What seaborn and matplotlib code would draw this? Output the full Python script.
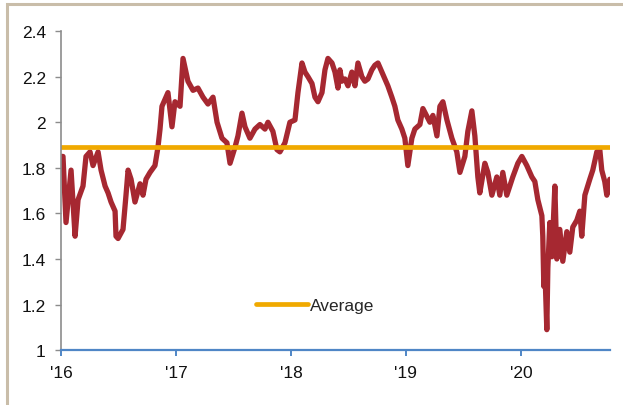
import numpy as np
import pandas as pd
import matplotlib.pyplot as plt
import matplotlib.patches as mpatches
import seaborn as sns

# decimal year and value
years = [2016.000, 2016.017, 2016.043, 2016.087, 2016.122, 2016.148, 2016.191, 2016.217, 2016.252, 2016.278,
         2016.322, 2016.348, 2016.383, 2016.409, 2016.435, 2016.470, 2016.478, 2016.496, 2016.539, 2016.565,
         2016.583, 2016.609, 2016.643, 2016.687, 2016.713, 2016.739, 2016.774, 2016.817, 2016.843, 2016.861,
         2016.878, 2016.904, 2016.930, 2016.965, 2016.991, 2017.035, 2017.061, 2017.104, 2017.148, 2017.191,
         2017.235, 2017.278, 2017.322, 2017.357, 2017.400, 2017.443, 2017.470, 2017.513, 2017.539, 2017.574,
         2017.600, 2017.643, 2017.687, 2017.730, 2017.774, 2017.800, 2017.843, 2017.878, 2017.904, 2017.948,
         2017.991,
         2018.035, 2018.061, 2018.096, 2018.122, 2018.148, 2018.183, 2018.209, 2018.235, 2018.270, 2018.296,
         2018.322, 2018.357, 2018.383, 2018.409, 2018.426, 2018.443, 2018.470, 2018.496, 2018.530, 2018.557,
         2018.583, 2018.617, 2018.643, 2018.670, 2018.704, 2018.730, 2018.757, 2018.791, 2018.817, 2018.843,
         2018.878, 2018.904, 2018.930, 2018.965, 2018.991, 2019.017, 2019.052, 2019.078, 2019.122, 2019.148,
         2019.209, 2019.235, 2019.270, 2019.296, 2019.322, 2019.357, 2019.400, 2019.443, 2019.470, 2019.513,
         2019.539, 2019.574, 2019.600, 2019.626, 2019.643, 2019.687, 2019.713, 2019.748, 2019.791, 2019.817,
         2019.843, 2019.878, 2019.930, 2019.974, 2020.009, 2020.052, 2020.096, 2020.122, 2020.148, 2020.183,
         2020.191, 2020.200, 2020.209, 2020.226, 2020.235, 2020.252, 2020.270, 2020.296, 2020.313, 2020.339,
         2020.365, 2020.400, 2020.426, 2020.452, 2020.487, 2020.513, 2020.530, 2020.557, 2020.600, 2020.626,
         2020.661, 2020.687, 2020.704, 2020.730, 2020.748, 2020.774]
values = [1.85, 1.85, 1.56, 1.79, 1.50, 1.66, 1.72, 1.85, 1.87, 1.81,
          1.87, 1.79, 1.72, 1.69, 1.65, 1.61, 1.50, 1.49, 1.53, 1.68,
          1.79, 1.75, 1.65, 1.73, 1.68, 1.75, 1.78, 1.81, 1.89, 1.97,
          2.07, 2.10, 2.13, 1.98, 2.09, 2.07, 2.28, 2.18, 2.14, 2.15,
          2.11, 2.08, 2.11, 2.00, 1.93, 1.91, 1.82, 1.89, 1.94, 2.04,
          1.98, 1.93, 1.97, 1.99, 1.97, 2.00, 1.96, 1.88, 1.87, 1.91,
          2.00,
          2.01, 2.13, 2.26, 2.22, 2.20, 2.17, 2.11, 2.09, 2.13, 2.23,
          2.28, 2.26, 2.22, 2.15, 2.23, 2.18, 2.19, 2.16, 2.22, 2.16,
          2.26, 2.20, 2.18, 2.19, 2.23, 2.25, 2.26, 2.22, 2.19, 2.16,
          2.11, 2.07, 2.01, 1.97, 1.93, 1.81, 1.93, 1.97, 1.99, 2.06,
          2.00, 2.03, 1.94, 2.07, 2.09, 2.01, 1.93, 1.87, 1.78, 1.85,
          1.96, 2.05, 1.94, 1.76, 1.69, 1.82, 1.78, 1.68, 1.76, 1.68,
          1.78, 1.68, 1.76, 1.82, 1.85, 1.81, 1.76, 1.74, 1.66, 1.59,
          1.50, 1.28, 1.36, 1.09, 1.36, 1.56, 1.41, 1.72, 1.40, 1.53,
          1.39, 1.52, 1.43, 1.54, 1.57, 1.61, 1.50, 1.68, 1.75, 1.79,
          1.87, 1.88, 1.79, 1.74, 1.68, 1.75]
average = 1.89
x_ticks = [2016, 2017, 2018, 2019, 2020]
x_labels = ["'16", "'17", "'18", "'19", "'20"]
y_ticks = [1, 1.2, 1.4, 1.6, 1.8, 2, 2.2, 2.4]
y_labels = ["1", "1.2", "1.4", "1.6", "1.8", "2", "2.2", "2.4"]

df = pd.DataFrame({"year": years, "value": values})
x_end = 2020.775

sns.set_style("white")
plt.rcParams['font.family'] = ['Liberation Sans', 'DejaVu Sans']

fig = plt.figure(figsize=(6.23, 4.06), dpi=100)
ax = fig.add_axes([0.098, 0.135, 0.881, 0.786])

sns.lineplot(data=df, x="year", y="value", color="#A62831", linewidth=3.8, ax=ax)
sns.lineplot(x=[2016, x_end], y=[average, average], color="#F0A900", linewidth=3.4,
             ax=ax, label="Average")

ax.set_xlim(2016, x_end)
ax.set_ylim(1, 2.4)
ax.set_xticks(x_ticks)
ax.set_xticklabels(x_labels)
ax.set_yticks(y_ticks)
ax.set_yticklabels(y_labels)
ax.set_xlabel("")
ax.set_ylabel("")

for s in ["top", "right"]:
    ax.spines[s].set_visible(False)
ax.spines["left"].set_color("#8C8C8C")
ax.spines["left"].set_linewidth(1.2)
ax.spines["bottom"].set_color("#4F86C6")
ax.spines["bottom"].set_linewidth(1.6)
ax.tick_params(axis="y", direction="out", length=4, width=1, color="#8C8C8C",
               labelsize=12.5, labelcolor="#111111", left=True, pad=7)
ax.tick_params(axis="x", direction="out", length=4, width=1.4, color="#4F86C6",
               labelsize=12.5, labelcolor="#111111", bottom=True, pad=7)

ax.legend(loc="center left", bbox_to_anchor=(0.326, 0.141), frameon=False,
          handlelength=3.0, handletextpad=0.12, fontsize=12.5)

border = mpatches.Rectangle((0.0112, -0.05), 1.1, 1.038, transform=fig.transFigure,
                            fill=False, edgecolor="#C9BDA9", linewidth=2.2, clip_on=False)
fig.patches.append(border)

fig.savefig("out.png", dpi=100)
